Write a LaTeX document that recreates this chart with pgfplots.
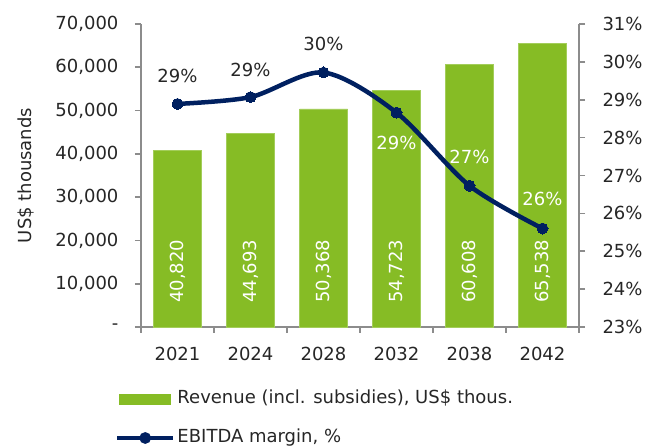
\documentclass[border=0pt]{standalone}
\usepackage{pgfplots}
\pgfplotsset{compat=1.18}
\usepackage{pgfplotstable}
\usepackage{fontspec}
\setmainfont{DejaVu Sans}
\definecolor{barg}{HTML}{86BC25}
\definecolor{bare}{HTML}{A3CD5A}
\definecolor{navy}{HTML}{002060}
\definecolor{axg}{HTML}{8C8C8C}
\definecolor{txt}{HTML}{262626}

\pgfplotstableread{
x rev
0 40820
1 44693
2 50368
3 54723
4 60608
5 65538
}\revtable
\pgfplotstableread{
x m dy
0 28.89 28
1 29.07 27
2 29.72 29
3 28.66 -30
4 26.73 28.5
5 25.60 29.5
}\mtable

\begin{document}
\begin{tikzpicture}[x=1pt,y=1pt]
\useasboundingbox (0,0) rectangle (654,446);
\pgfplotsset{
 every axis/.append style={
   scale only axis, width=438pt, height=303pt,
   at={(141pt,119pt)}, anchor=south west,
   xmin=-0.5, xmax=5.5,
   font=\fontsize{18pt}{21pt}\selectfont,
   /pgf/number format/assume math mode=true,
   axis line style={axg, line width=2pt},
   tick style={axg, line width=1.6pt},
   tick align=outside,
   major tick length=6pt,
   minor tick length=6pt,
   ticklabel style={text=txt},
   scaled y ticks=false,
   clip=false,
 }
}
\begin{axis}[
  axis x line*=bottom, axis y line*=left,
  ymin=0, ymax=70000,
  ytick={0,10000,...,70000},
  yticklabels={-,{10,000},{20,000},{30,000},{40,000},{50,000},{60,000},{70,000}},
  yticklabel style={xshift=-13pt},
  xtick={0,...,5},
  xticklabels={2021,2024,2028,2032,2038,2042},
  xticklabel style={yshift=-11pt},
  minor xtick={-0.5,0.5,...,5.5},
  major x tick style={draw=none},
  ylabel={US\$ thousands},
  ylabel style={at={(axis description cs:-0.2626,0.5)}, anchor=center, text=txt},
]
\addplot[ybar, bar width=48pt, fill=barg, draw=bare, line width=0.8pt] table[x=x,y=rev]{\revtable};
\addplot[draw=none, mark=none, point meta=explicit,
  nodes near coords={\pgfmathprintnumber[fixed,precision=0,1000 sep={,}]{\pgfplotspointmeta}},
  every node near coord/.append style={rotate=90, anchor=center, text=white}]
  table[x=x, y expr=12900, meta=rev]{\revtable};
\end{axis}
\begin{axis}[
  axis y line*=right, axis x line=none,
  ymin=23, ymax=31,
  ytick={23,...,31},
  yticklabel={\pgfmathprintnumber{\tick}\%},
  yticklabel style={xshift=14pt},
  legend style={at={(rel axis cs:-0.0594,-0.2079)}, anchor=north west, draw=none, fill=none,
    inner sep=0pt, outer sep=0pt, row sep=21pt, column sep=2pt,
    font=\fontsize{18pt}{21pt}\selectfont,
    nodes={inner sep=0pt, text height=14pt, text depth=4pt, text=txt}},
  legend cell align=left,
]
\addlegendimage{legend image code/.code={\fill[barg] (0pt,-5pt) rectangle (51pt,5pt);}}
\addlegendentry{Revenue (incl. subsidies), US\$ thous.}
\addplot[navy, line width=4.5pt, smooth, mark=*, mark size=5.5pt,
  mark options={fill=navy, draw=navy, line width=0pt},
  legend image code/.code={\draw[navy,line width=4.5pt] (-2pt,0pt) -- (54pt,0pt); \fill[navy] (26pt,0pt) circle (3.5pt);}]
  table[x=x,y=m]{\mtable};
\addlegendentry{EBITDA margin, \%}
\addplot[forget plot, draw=none, mark=none, skip coords between index={3}{6}, point meta=y,
  nodes near coords={\pgfmathprintnumber[fixed,precision=0]{\pgfplotspointmeta}\%},
  visualization depends on={\thisrow{dy}\as\dy},
  every node near coord/.append style={anchor=center, yshift=\dy, text=txt}]
  table[x=x,y=m]{\mtable};
\addplot[forget plot, draw=none, mark=none, skip coords between index={0}{3}, point meta=y,
  nodes near coords={\pgfmathprintnumber[fixed,precision=0]{\pgfplotspointmeta}\%},
  visualization depends on={\thisrow{dy}\as\dy},
  every node near coord/.append style={anchor=center, yshift=\dy, text=white}]
  table[x=x,y=m]{\mtable};
\end{axis}
\end{tikzpicture}
\end{document}
